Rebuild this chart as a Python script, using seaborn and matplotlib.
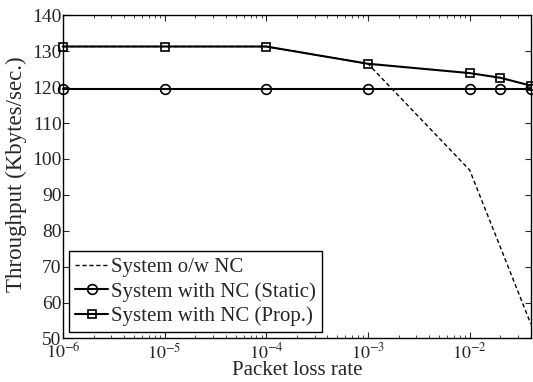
import numpy as np
import pandas as pd
import matplotlib
matplotlib.use("Agg")
import matplotlib.pyplot as plt
import seaborn as sns

loss_rate = [1e-6, 1e-5, 1e-4, 1e-3, 1e-2, 2e-2, 4e-2]
no_nc = [131.3, 131.3, 131.3, 126.5, 96.9, 75.5, 54.0]
nc_static = [119.4, 119.4, 119.4, 119.4, 119.4, 119.4, 119.4]
nc_prop = [131.3, 131.3, 131.3, 126.5, 123.9, 122.6, 120.4]

labels = ["System o/w NC", "System with NC (Static)", "System with NC (Prop.)"]
x_label = "Packet loss rate"
y_label = "Throughput (Kbytes/sec.)"

sns.set_theme(style="ticks")
plt.rcParams["font.family"] = ["Liberation Serif", "DejaVu Serif"]
plt.rcParams["mathtext.fontset"] = "stix"
plt.rcParams["xtick.direction"] = "in"
plt.rcParams["ytick.direction"] = "in"

df = pd.DataFrame({
    "x": loss_rate * 3,
    "y": no_nc + nc_static + nc_prop,
    "series": [labels[0]] * 7 + [labels[1]] * 7 + [labels[2]] * 7,
})

fig = plt.figure(figsize=(5.33, 3.82), dpi=100)
ax = fig.add_axes([0.118, 0.114, 0.878, 0.846])

styles = {
    labels[0]: dict(linestyle=(0, (3, 2)), linewidth=1.0, marker=None),
    labels[1]: dict(linestyle="-", linewidth=1.5, marker="o", markersize=7),
    labels[2]: dict(linestyle="-", linewidth=1.5, marker="s", markersize=5.5),
}
for lab in labels:
    sub = df[df["series"] == lab]
    st = styles[lab]
    kw = dict(color="black", linestyle=st["linestyle"], linewidth=st["linewidth"], label=lab)
    if st["marker"]:
        kw.update(marker=st["marker"], markersize=st["markersize"], markerfacecolor="none",
                  markeredgecolor="black", markeredgewidth=1.2)
    sns.lineplot(data=sub, x="x", y="y", ax=ax, clip_on=False, **kw)

ax.set_xscale("log")
ax.set_xlim(1e-6, 4e-2)
ax.set_ylim(50, 140)
ax.set_yticks(np.arange(50, 141, 10))
ax.set_xticks([1e-6, 1e-5, 1e-4, 1e-3, 1e-2])
ax.set_xticklabels([r"$10^{-6}$", r"$10^{-5}$", r"$10^{-4}$", r"$10^{-3}$", r"$10^{-2}$"])
ax.tick_params(axis="both", which="both", top=True, right=True)
ax.tick_params(axis="y", pad=1, labelsize=14)
ax.tick_params(axis="x", pad=3, labelsize=13)
ax.tick_params(which="major", length=4, width=0.8)
ax.tick_params(which="minor", length=2, width=0.6)
for sp in ax.spines.values():
    sp.set_linewidth(1.0)
    sp.set_color("black")
ax.set_xlabel(x_label, fontsize=15, labelpad=-1)
ax.set_ylabel(y_label, fontsize=16.5)
ax.yaxis.set_label_coords(-0.077, 0.509)

leg = ax.legend(loc="lower left", fontsize=15, frameon=True, fancybox=False,
                edgecolor="black", framealpha=1, borderaxespad=0.3,
                handlelength=1.55, handletextpad=0.15, labelspacing=0.22, borderpad=0.3)
leg.get_frame().set_linewidth(1.0)

fig.savefig("out.png", dpi=100)
